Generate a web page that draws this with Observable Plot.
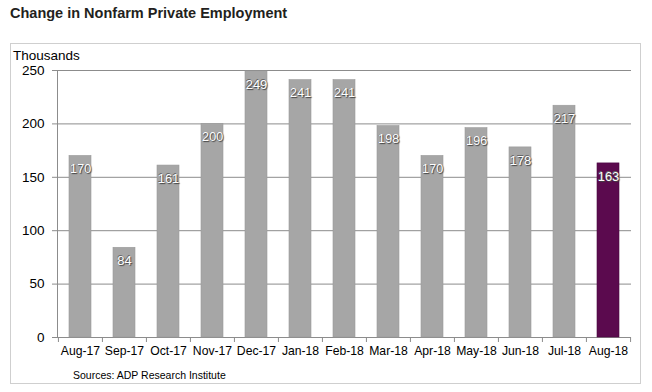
<!DOCTYPE html>
<html>
<head>
<meta charset="utf-8">
<script src="https://cdn.jsdelivr.net/npm/d3@7"></script>
<script src="https://cdn.jsdelivr.net/npm/@observablehq/plot@0.6"></script>
<style>
  body { margin: 0; background: #fff; font-family: "Liberation Sans", Arial, sans-serif; }
  #wrap { position: relative; width: 652px; height: 392px; overflow: hidden; }
  #title { position: absolute; left: 10px; top: 5px; font-weight: bold; font-size: 14.5px; color: #231f20; }
  #box { position: absolute; left: 10px; top: 43px; width: 629px; height: 339px; border: 1px solid #cfcfcf; }
  #unit { position: absolute; left: 13px; top: 48px; font-size: 13.5px; color: #000; }
  #src { position: absolute; left: 73px; top: 369px; font-size: 10.5px; color: #000; }
  #chart { position: absolute; left: 0; top: 0; }
  g[aria-label="text"] text { text-shadow: 1px 1px 1px #444, -0.5px -0.5px 0.5px #666; }
</style>
</head>
<body>
<div id="wrap">
  <div id="box"></div>
  <div id="chart"></div>
  <div id="title">Change in Nonfarm Private Employment</div>
  <div id="unit">Thousands</div>
  <div id="src">Sources: ADP Research Institute</div>
</div>
<script>
const months = ["Aug-17","Sep-17","Oct-17","Nov-17","Dec-17","Jan-18","Feb-18","Mar-18","Apr-18","May-18","Jun-18","Jul-18","Aug-18"];
const values = [170, 84, 161, 200, 249, 241, 241, 198, 170, 196, 178, 217, 163];
const yTicks = [0, 50, 100, 150, 200, 250];
const latest = "Aug-18";

const data = months.map((m, i) => ({month: m, value: values[i]}));
const width = 652, mL = 57, mR = 21;
const step = (width - mL - mR) / months.length;

const plot = Plot.plot({
  width, height: 392,
  marginTop: 70, marginBottom: 55, marginLeft: mL, marginRight: mR,
  style: {background: "transparent", fontFamily: "Liberation Sans, Arial, sans-serif", fontSize: "13px", color: "#000", overflow: "visible"},
  x: {domain: months, paddingInner: 0.5, paddingOuter: 0.25, align: 0.5, label: null},
  y: {domain: [0, 250], label: null},
  marks: [
    Plot.ruleY(yTicks, {stroke: "#8c8c8c", strokeWidth: 1}),
    Plot.frame({anchor: "left", stroke: "#8c8c8c"}),
    Plot.barY(data, {x: "month", y: "value", fill: d => d.month === latest ? "#5b0a4e" : "#a6a6a6", stroke: d => d.month === latest ? "#4a0740" : "#9a9a9a", strokeWidth: 0.6}),
    Plot.text(data, {x: "month", y: "value", text: d => String(d.value), dy: 13, fill: "#fff", fontSize: 13}),
    Plot.axisY({ticks: yTicks, tickSize: 5, tickPadding: 8, stroke: "#8c8c8c", fill: "#000", fontSize: 13.5, label: null}),
    Plot.axisX({tickSize: 0, tickPadding: 9, fill: "#000", fontSize: 12.2, label: null}),
    Plot.axisX({tickSize: 5, text: null, dx: -step / 2, stroke: "#8c8c8c", label: null}),
    Plot.axisX([months[months.length - 1]], {tickSize: 5, text: null, dx: step / 2, stroke: "#8c8c8c", label: null})
  ]
});
document.getElementById("chart").appendChild(plot);
</script>
</body>
</html>
